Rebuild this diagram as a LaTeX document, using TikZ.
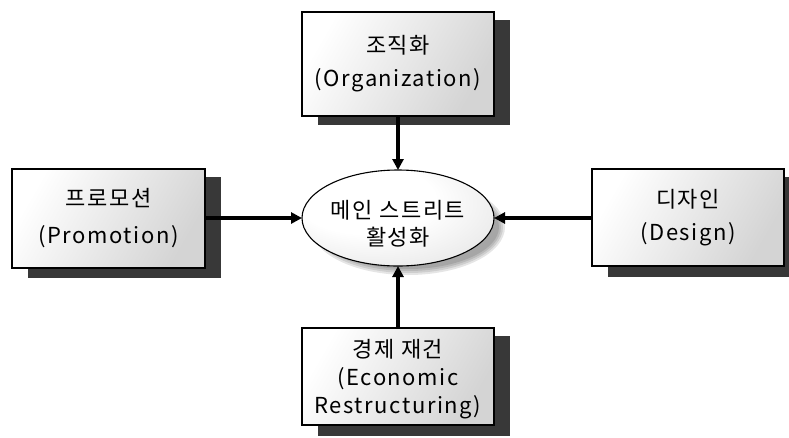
\documentclass[tikz,border=0pt]{standalone}
\usepackage{fontspec}
\setmainfont[LetterSpace=7]{Noto Sans CJK KR}
\usetikzlibrary{arrows.meta}
\pgfdeclareradialshading{ellshade}{\pgfpoint{-12bp}{14bp}}{color(0bp)=(white); color(18bp)=(white); color(42bp)=(black!12); color(60bp)=(black!28)}
\begin{document}
\begin{tikzpicture}[x=1pt,y=-1pt,
  boxstyle/.style={draw=black, line width=1.1pt, left color=white, right color=black!17, shading angle=60, minimum width=192pt, inner sep=0pt, align=center},
  conn/.style={line width=3.4pt, -{Triangle[length=11pt,width=11pt]}}
]
\useasboundingbox (0,0) rectangle (789,437);
% shadows
\fill[black!78] (318,20) rectangle (510,125);
\fill[black!78] (28,177) rectangle (221,278);
\fill[black!78] (608,177) rectangle (789,277);
\fill[black!78] (318,336) rectangle (510,436);
% ellipse shadow
\foreach \o/\s in {0.10/0,0.10/2,0.10/4,0.10/6} {
  \fill[black, opacity=\o] (408,227) ellipse ({97-\s} and {48-\s});
}
% boxes
\node[boxstyle, minimum height=104pt, font=\fontsize{22}{33}\selectfont] (org) at (398,64) {조직화\\(Organization)};
\node[boxstyle, minimum width=193pt, minimum height=99pt, font=\fontsize{22}{37}\selectfont] (pro) at (108.5,218.5) {프로모션\\(Promotion)};
\node[boxstyle, minimum height=97pt, font=\fontsize{22}{33}\selectfont] (des) at (688,217.5) {디자인\\(Design)};
\node[boxstyle, minimum height=97pt, font=\fontsize{22}{28}\selectfont, text depth=0pt] (eco) at (398,376.5) {경제 재건\\(Economic\\Restructuring)};
% ellipse
\path[draw=black, line width=1.1pt, shading=ellshade] (398,218) ellipse (96 and 48);
\node[align=center, font=\fontsize{22}{27}\selectfont] (main) at (398,224) {메인 스트리트\\활성화};
\coordinate (eT) at (398,170);
\coordinate (eB) at (398,266);
\coordinate (eL) at (302,218);
\coordinate (eR) at (494,218);
% connectors
\draw[conn] (org.south) -- (eT);
\draw[conn] (eco.north) -- (eB);
\draw[conn] (pro.east |- eL) -- (eL);
\draw[conn] (des.west |- eR) -- (eR);
\end{tikzpicture}
\end{document}
